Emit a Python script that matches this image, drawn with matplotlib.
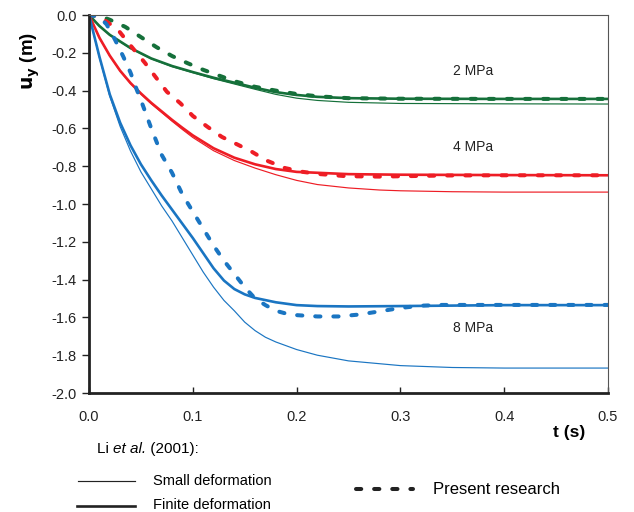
import matplotlib
matplotlib.use("Agg")
import matplotlib.pyplot as plt
from matplotlib.lines import Line2D

plt.rcParams['font.family'] = ['Liberation Sans', 'DejaVu Sans']

# ---- data ----
t_g_fin = [0, 0.01, 0.02, 0.04, 0.06, 0.08, 0.10, 0.12, 0.14, 0.16, 0.18, 0.20, 0.22, 0.25, 0.30, 0.40, 0.50]
u_g_fin = [0, -0.058, -0.105, -0.175, -0.23, -0.27, -0.302, -0.332, -0.358, -0.385, -0.408, -0.423, -0.433, -0.44, -0.443, -0.444, -0.444]
t_g_sml = [0, 0.01, 0.02, 0.04, 0.06, 0.08, 0.10, 0.12, 0.14, 0.16, 0.18, 0.20, 0.22, 0.25, 0.30, 0.40, 0.50]
u_g_sml = [0, -0.059, -0.107, -0.177, -0.232, -0.273, -0.305, -0.337, -0.365, -0.393, -0.42, -0.44, -0.452, -0.462, -0.468, -0.47, -0.471]
t_g_pre = [0, 0.01, 0.02, 0.035, 0.05, 0.065, 0.08, 0.095, 0.11, 0.125, 0.14, 0.16, 0.18, 0.20, 0.22, 0.25, 0.30, 0.40, 0.50]
u_g_pre = [0, -0.005, -0.025, -0.063, -0.117, -0.17, -0.217, -0.255, -0.29, -0.32, -0.35, -0.38, -0.40, -0.418, -0.43, -0.44, -0.443, -0.444, -0.444]

t_r_fin = [0, 0.01, 0.02, 0.03, 0.04, 0.05, 0.06, 0.07, 0.08, 0.09, 0.10, 0.12, 0.14, 0.16, 0.18, 0.20, 0.25, 0.30, 0.40, 0.50]
u_r_fin = [0, -0.12, -0.215, -0.295, -0.36, -0.415, -0.465, -0.51, -0.555, -0.597, -0.637, -0.705, -0.755, -0.79, -0.815, -0.83, -0.842, -0.845, -0.847, -0.848]
t_r_sml = [0, 0.01, 0.02, 0.03, 0.04, 0.05, 0.06, 0.07, 0.08, 0.09, 0.10, 0.12, 0.14, 0.16, 0.18, 0.20, 0.22, 0.25, 0.28, 0.30, 0.35, 0.40, 0.50]
u_r_sml = [0, -0.121, -0.217, -0.297, -0.363, -0.419, -0.47, -0.516, -0.562, -0.606, -0.648, -0.718, -0.77, -0.81, -0.845, -0.875, -0.897, -0.915, -0.926, -0.93, -0.935, -0.937, -0.937]
t_r_pre = [0, 0.01, 0.017, 0.028, 0.041, 0.054, 0.064, 0.075, 0.088, 0.10, 0.114, 0.128, 0.144, 0.157, 0.171, 0.189, 0.206, 0.223, 0.248, 0.28, 0.345, 0.40, 0.50]
u_r_pre = [0, -0.008, -0.035, -0.079, -0.168, -0.254, -0.327, -0.406, -0.467, -0.534, -0.591, -0.645, -0.688, -0.724, -0.77, -0.81, -0.83, -0.842, -0.853, -0.855, -0.849, -0.848, -0.848]

t_b_fin = [0, 0.01, 0.02, 0.03, 0.04, 0.05, 0.06, 0.07, 0.08, 0.09, 0.10, 0.11, 0.12, 0.13, 0.14, 0.15, 0.16, 0.18, 0.20, 0.22, 0.25, 0.30, 0.40, 0.50]
u_b_fin = [0, -0.22, -0.42, -0.57, -0.69, -0.79, -0.875, -0.955, -1.03, -1.105, -1.18, -1.26, -1.34, -1.405, -1.45, -1.478, -1.497, -1.52, -1.535, -1.54, -1.542, -1.54, -1.535, -1.535]
t_b_sml = [0, 0.01, 0.02, 0.03, 0.04, 0.05, 0.06, 0.07, 0.08, 0.09, 0.10, 0.11, 0.12, 0.13, 0.14, 0.15, 0.16, 0.17, 0.18, 0.20, 0.22, 0.25, 0.30, 0.35, 0.40, 0.50]
u_b_sml = [0, -0.225, -0.43, -0.59, -0.72, -0.83, -0.92, -1.01, -1.09, -1.18, -1.27, -1.36, -1.44, -1.51, -1.565, -1.625, -1.67, -1.705, -1.73, -1.77, -1.80, -1.83, -1.855, -1.865, -1.868, -1.868]
t_b_pre = [0, 0.01, 0.017, 0.025, 0.033, 0.04, 0.046, 0.052, 0.06, 0.07, 0.08, 0.09, 0.10, 0.11, 0.12, 0.13, 0.14, 0.15, 0.16, 0.17, 0.18, 0.19, 0.20, 0.22, 0.24, 0.26, 0.28, 0.30, 0.32, 0.34, 0.40, 0.50]
u_b_pre = [0, -0.01, -0.05, -0.13, -0.22, -0.305, -0.395, -0.48, -0.6, -0.74, -0.835, -0.95, -1.04, -1.13, -1.22, -1.30, -1.37, -1.44, -1.50, -1.535, -1.565, -1.58, -1.588, -1.595, -1.595, -1.585, -1.568, -1.55, -1.538, -1.534, -1.534, -1.534]

labels = ["2 MPa", "4 MPa", "8 MPa"]
label_t = [0.37, 0.37, 0.37]
label_u = [-0.296, -0.70, -1.656]

GREEN = "#15703a"
RED = "#ee1d25"
BLUE = "#1a75c2"

fig = plt.figure(figsize=(6.34, 5.12), dpi=100)
ax = fig.add_axes([0.1404, 0.2324, 0.8186, 0.7383])

thin = 0.85
thick = 1.9
dash_lw = 2.9
dash_ls = (0, (1.3, 3.2))

series = [
    (t_g_sml, u_g_sml, t_g_fin, u_g_fin, t_g_pre, u_g_pre, GREEN),
    (t_r_sml, u_r_sml, t_r_fin, u_r_fin, t_r_pre, u_r_pre, RED),
    (t_b_sml, u_b_sml, t_b_fin, u_b_fin, t_b_pre, u_b_pre, BLUE),
]
for ts, us, tf, uf, tp, up, c in series:
    ax.plot(ts, us, color=c, lw=thin, solid_joinstyle='round')
    ax.plot(tf, uf, color=c, lw=thick, solid_joinstyle='round')
    ax.plot(tp, up, color=c, lw=dash_lw, linestyle=dash_ls, dash_capstyle='round')

for lab, x, y in zip(labels, label_t, label_u):
    ax.text(x, y, lab, fontsize=10, ha='center', va='center', color='#222222')

ax.set_xlim(0, 0.5)
ax.set_ylim(-2.0, 0.0)
ax.set_xticks([0.0, 0.1, 0.2, 0.3, 0.4, 0.5])
ax.set_yticks([0.0, -0.2, -0.4, -0.6, -0.8, -1.0, -1.2, -1.4, -1.6, -1.8, -2.0])
ax.set_xticklabels(["0.0", "0.1", "0.2", "0.3", "0.4", "0.5"])
ax.set_yticklabels(["0.0", "-0.2", "-0.4", "-0.6", "-0.8", "-1.0", "-1.2", "-1.4", "-1.6", "-1.8", "-2.0"])
ax.tick_params(axis='x', direction='in', length=4, width=1, pad=12, labelsize=10.5, colors='#222222')
ax.tick_params(axis='y', direction='out', length=5, width=1, pad=4, labelsize=10.5, colors='#222222')
for s in ['left', 'bottom']:
    ax.spines[s].set_linewidth(2.0)
    ax.spines[s].set_color('#222222')
for s in ['top', 'right']:
    ax.spines[s].set_linewidth(0.8)
    ax.spines[s].set_color('#555555')

fig.text(30 / 634, 1 - 61 / 512, r"$\mathbf{u}_\mathbf{y}$ (m)", rotation=90, fontsize=13.5,
         fontweight='bold', ha='center', va='center')
fig.text(585 / 634, 1 - 433 / 512, "t (s)", fontsize=12.5, fontweight='bold', ha='right', va='center')

# legend
t1 = fig.text(97 / 634, 1 - 449 / 512, "Li ", fontsize=11, ha='left', va='center')
fig.canvas.draw()
r = fig.canvas.get_renderer()
bb = t1.get_window_extent(r)
t2 = fig.text(bb.x1 / 634, 1 - 449 / 512, "et al.", fontsize=11, style='italic', ha='left', va='center')
bb2 = t2.get_window_extent(r)
fig.text(bb2.x1 / 634, 1 - 449 / 512, " (2001):", fontsize=11, ha='left', va='center')

fig.add_artist(Line2D([78 / 634, 135 / 634], [1 - 481 / 512, 1 - 481 / 512], color='#222222', lw=thin))
fig.text(153 / 634, 1 - 481 / 512, "Small deformation", fontsize=10.5, ha='left', va='center')
fig.add_artist(Line2D([77 / 634, 135 / 634], [1 - 506 / 512, 1 - 506 / 512], color='#222222', lw=thick))
fig.text(153 / 634, 1 - 505 / 512, "Finite deformation", fontsize=10.5, ha='left', va='center')
fig.add_artist(Line2D([356 / 634, 413 / 634], [1 - 489 / 512, 1 - 489 / 512], color='#222222', lw=dash_lw,
                      linestyle=dash_ls, dash_capstyle='round'))
fig.text(433 / 634, 1 - 489 / 512, "Present research", fontsize=12, ha='left', va='center')

fig.savefig("out.png", dpi=100)
